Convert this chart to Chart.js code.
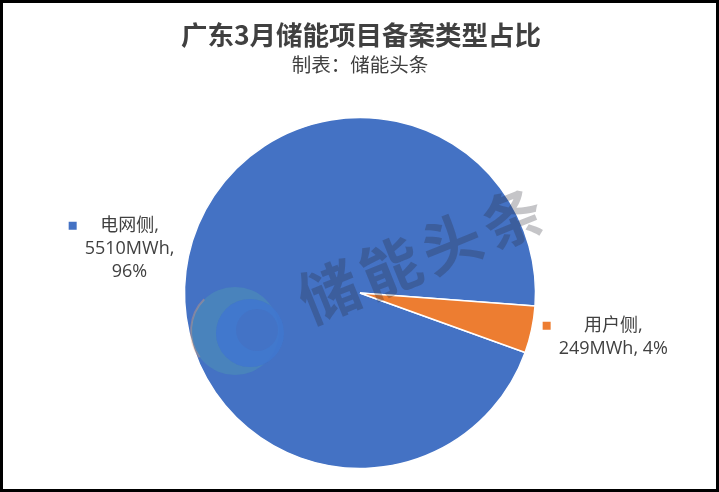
<!DOCTYPE html>
<html lang="zh-CN">
<head>
    <meta charset="UTF-8">
    <title>广东3月储能项目备案类型占比</title>
    <script src="https://cdn.jsdelivr.net/npm/chart.js"></script>
    <style>
        html, body { margin: 0; padding: 0; background: #fff; }
        canvas { display: block; }
    </style>
</head>
<body>
    <canvas id="pieChart" width="719" height="492"></canvas>
    <script>
        // Chart data
        const categories = ['电网侧', '用户侧'];
        const values = [5510, 249];
        const unit = 'MWh';
        const sliceColors = ['#4472C4', '#ED7D31'];
        const titleText = '广东3月储能项目备案类型占比';
        const subtitleText = '制表：储能头条';
        const watermarkText = '储能头条';

        const FONT = '"Noto Sans CJK SC", "Noto Sans", sans-serif';
        const LABEL_FONT = '"Open Sans", "Noto Sans CJK SC", sans-serif';
        const TEXT_COLOR = '#404040';
        const total = values.reduce((a, b) => a + b, 0);

        // wrap label text like Excel does (greedy, max width)
        function labelLines(ctx, i) {
            const pct = Math.round(values[i] / total * 100) + '%';
            const tokens = [values[i] + unit + ',', pct];
            const lines = [categories[i] + ','];
            let cur = tokens[0];
            for (let k = 1; k < tokens.length; k++) {
                const test = cur + ' ' + tokens[k];
                if (ctx.measureText(test).width <= 125) cur = test;
                else { lines.push(cur); cur = tokens[k]; }
            }
            lines.push(cur);
            return lines;
        }

        const decor = {
            id: 'decor',
            beforeDraw(chart) {
                const ctx = chart.ctx;
                ctx.save();
                ctx.fillStyle = '#fff';
                ctx.fillRect(0, 0, chart.width, chart.height);
                ctx.restore();
            },
            afterDatasetsDraw(chart) {
                const ctx = chart.ctx;
                ctx.save();
                // logo swirl (faint)
                ctx.fillStyle = 'rgba(90,190,160,0.22)';
                ctx.beginPath(); ctx.arc(235, 331, 44, 0, Math.PI * 2); ctx.fill();
                ctx.fillStyle = 'rgba(68,114,196,0.9)';
                ctx.beginPath(); ctx.arc(250, 333, 34, 0, Math.PI * 2); ctx.fill();
                ctx.fillStyle = 'rgba(60,130,225,0.3)';
                ctx.beginPath(); ctx.arc(250, 333, 34, 0, Math.PI * 2); ctx.fill();
                ctx.fillStyle = 'rgba(68,114,196,0.85)';
                ctx.beginPath(); ctx.arc(257, 330, 21, 0, Math.PI * 2); ctx.fill();
                ctx.strokeStyle = 'rgba(240,160,110,0.35)';
                ctx.lineWidth = 2;
                ctx.beginPath(); ctx.arc(236, 331, 45, Math.PI * 0.8, Math.PI * 1.25); ctx.stroke();

                // watermark
                ctx.fillStyle = 'rgba(40,40,50,0.27)';
                ctx.font = 'bold 60px ' + FONT;
                ctx.textAlign = 'center';
                ctx.textBaseline = 'middle';
                const ang = -22 * Math.PI / 180;
                [...watermarkText].forEach((ch, k) => {
                    ctx.save();
                    ctx.translate(329 + Math.cos(ang) * 66 * k, 292 + Math.sin(ang) * 66 * k);
                    ctx.rotate(ang);
                    ctx.fillText(ch, 0, 0);
                    ctx.restore();
                });
                ctx.restore();
            },
            afterDraw(chart) {
                const ctx = chart.ctx;
                ctx.save();
                ctx.fillStyle = TEXT_COLOR;
                ctx.textAlign = 'center';
                ctx.textBaseline = 'middle';
                ctx.font = 'bold 26.5px ' + FONT;
                ctx.fillText(titleText, 361, 35);
                ctx.font = '19.5px ' + FONT;
                ctx.fillText(subtitleText, 360, 65);

                // data labels with legend keys
                ctx.font = '18px ' + LABEL_FONT;
                const meta = chart.getDatasetMeta(0);
                meta.data.forEach((arc, i) => {
                    const p = arc.getProps(['x', 'y', 'startAngle', 'endAngle', 'outerRadius'], true);
                    const mid = (p.startAngle + p.endAngle) / 2;
                    const dx = Math.cos(mid), dy = Math.sin(mid);
                    const edgeX = p.x + dx * p.outerRadius;
                    const cy = p.y + dy * (p.outerRadius + 37);
                    const lines = labelLines(ctx, i);
                    const lh = 23;
                    const textW = Math.max(...lines.map(l => ctx.measureText(l).width));
                    const boxW = 8 + 8 + textW;
                    const left = dx < 0 ? edgeX - 14 - boxW : edgeX + 11;
                    const top = cy - lines.length * lh / 2;
                    ctx.fillStyle = sliceColors[i];
                    ctx.fillRect(left, top + lh / 2 - 4, 8, 8);
                    ctx.fillStyle = TEXT_COLOR;
                    lines.forEach((l, k) => ctx.fillText(l, left + 16 + textW / 2, top + lh / 2 + k * lh));
                });

                // frame
                ctx.fillStyle = '#000';
                ctx.fillRect(0, 0, chart.width, 3);
                ctx.fillRect(0, chart.height - 3, chart.width, 3);
                ctx.fillRect(0, 0, 3, chart.height);
                ctx.fillRect(chart.width - 3, 0, 3, chart.height);
                ctx.restore();
            }
        };

        new Chart(document.getElementById('pieChart'), {
            type: 'pie',
            data: {
                labels: categories,
                datasets: [{
                    data: values,
                    backgroundColor: sliceColors,
                    borderColor: '#fff',
                    borderWidth: 1.5
                }]
            },
            options: {
                responsive: false,
                devicePixelRatio: 1,
                animation: false,
                rotation: 109.8,
                radius: 175.5,
                layout: { padding: { top: 117, bottom: 23, left: 1, right: 0 } },
                plugins: {
                    legend: { display: false },
                    tooltip: { enabled: false }
                }
            },
            plugins: [decor]
        });
    </script>
</body>
</html>
